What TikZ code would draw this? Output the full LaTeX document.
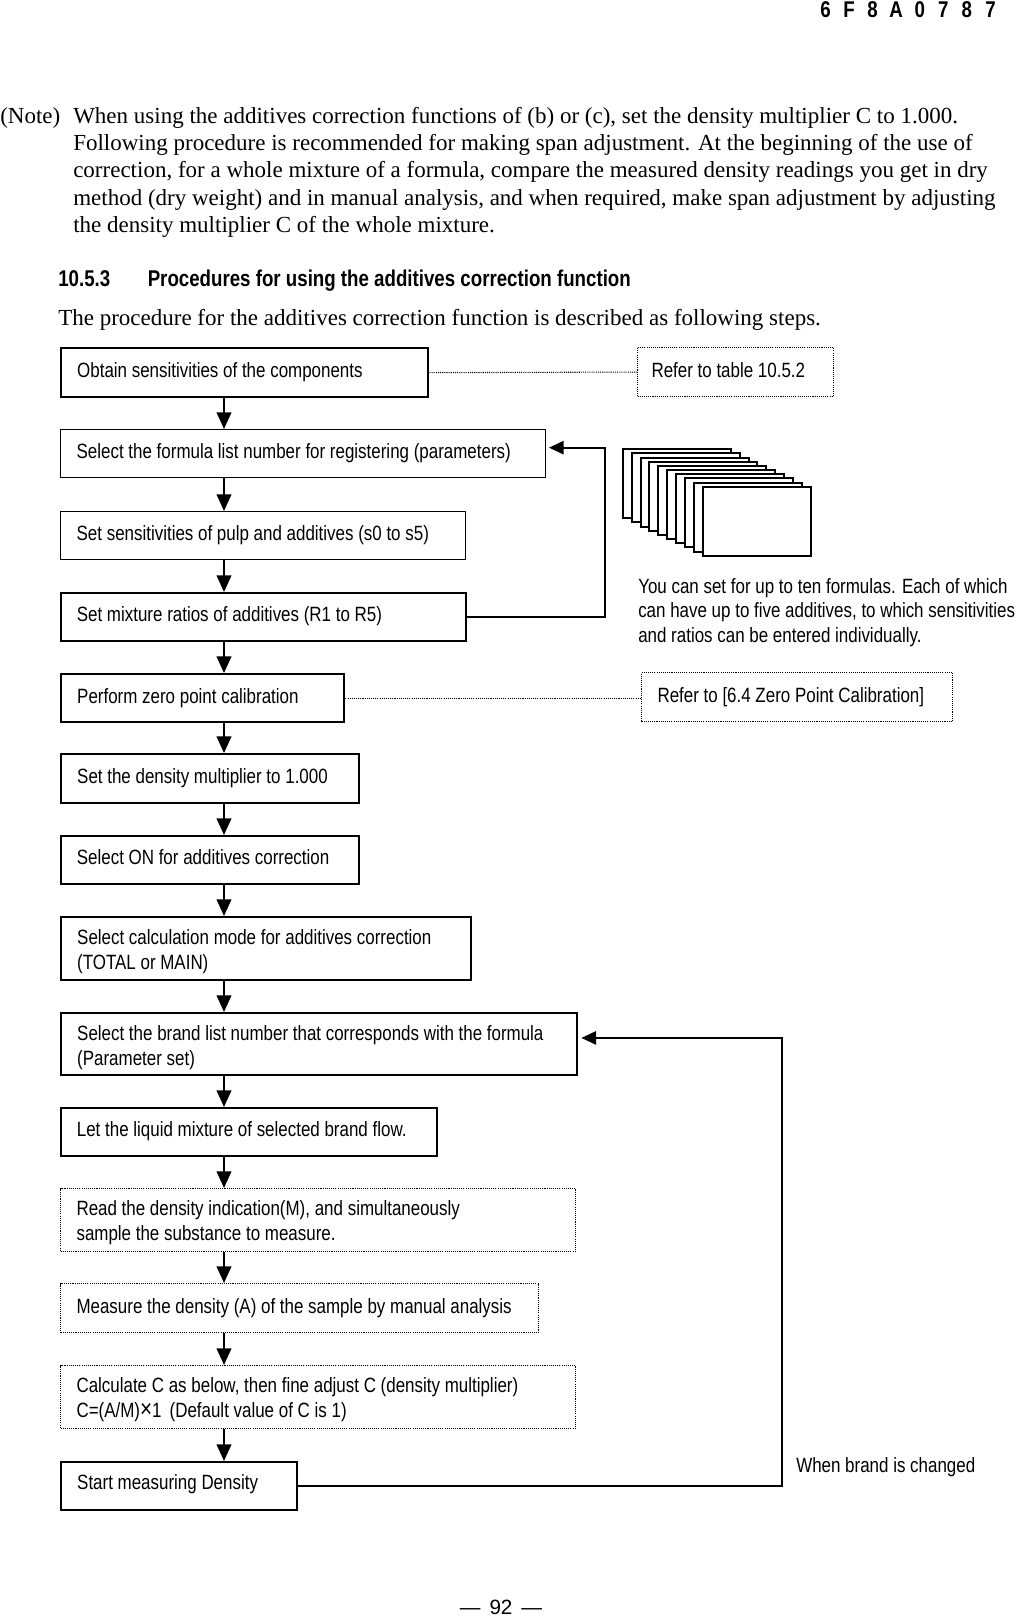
\documentclass[tikz,border=0pt]{standalone}
\usepackage{fontspec}
\setmainfont{Liberation Serif}
\setsansfont{Liberation Sans}
\newfontfamily\nfont[FakeStretch=0.82]{Liberation Sans}
\usetikzlibrary{arrows.meta}
\newcommand{\boxfont}{\nfont\fontsize{15.5pt}{18.75pt}\selectfont}
\newcommand{\serfont}{\rmfamily\fontsize{17.25pt}{20pt}\selectfont}
\newcommand{\headfont}{\nfont\bfseries\fontsize{17.1pt}{20pt}\selectfont}
\newcommand{\bt}[2]{\makebox[#1][l]{\begin{tabular}{@{}l@{}}#2\end{tabular}}}
\newcommand{\btt}[2]{\raisebox{-2.5pt}[\height][\depth]{\makebox[#1][l]{\begin{tabular}{@{}l@{}}#2\end{tabular}}}}
\begin{document}
\begin{tikzpicture}[x=0.75pt,y=-0.75pt,
  box/.style={draw=black, anchor=north west, inner xsep=12pt, inner ysep=0pt, font=\boxfont, fill=white},
  thickb/.style={box, line width=1.8pt},
  medb/.style={box, line width=1.3pt},
  thinb/.style={box, line width=1pt},
  dotb/.style={box, line width=0.8pt, dash pattern=on 0.8pt off 0.8pt},
  sz/.style 2 args={minimum width=#1, minimum height=#2},
  arr/.style={line width=1.5pt, -{Triangle[width=11pt,length=12.5pt]}},
  fb/.style={line width=1.3pt, -{Triangle[width=10pt,length=11pt]}},
  dotline/.style={line width=0.8pt, dash pattern=on 0.8pt off 0.8pt},
  card/.style={draw=black, fill=white, line width=1.5pt},
  txt/.style={inner sep=0pt, anchor=base west}
]
\useasboundingbox (0,0) rectangle (1016,1616);

% header
\foreach \c [count=\i from 0] in {6,F,8,A,0,7,8,7}
  \node[inner sep=0pt, anchor=base, font=\headfont] (h\i) at (825.5+23.57*\i,18) {\c};

% note paragraph
\node[txt, font=\serfont] (note) at (0,124) {(Note)};
\node[txt, font=\serfont] (n1) at (73,124) {When using the additives correction functions of (b) or (c), set the density multiplier C to 1.000.};
\node[txt, font=\serfont] (n2) at (73,151) {Following procedure is recommended for making span adjustment. At the beginning of the use of};
\node[txt, font=\serfont] (n3) at (73,178) {correction, for a whole mixture of a formula, compare the measured density readings you get in dry};
\node[txt, font=\serfont] (n4) at (73,205) {method (dry weight) and in manual analysis, and when required, make span adjustment by adjusting};
\node[txt, font=\serfont] (n5) at (73,232) {the density multiplier C of the whole mixture.};

\node[txt, font=\headfont] (secnum) at (58,286) {10.5.3};
\node[txt, font=\headfont] (sectitle) at (147.5,286) {Procedures for using the additives correction function};
\node[txt, font=\serfont] (intro) at (58,325) {The procedure for the additives correction function is described as following steps.};

% main flow boxes
\node[thickb, sz={275.25pt}{36.75pt}] (obtain) at (60,347) {\bt{251.25pt}{Obtain sensitivities of the components}};
\node[thinb, sz={363.75pt}{36pt}] (formula) at (60,429) {\bt{339.75pt}{Select the formula list number for registering (parameters)}};
\node[thinb, sz={303.75pt}{36pt}] (sens) at (60,511) {\bt{279.75pt}{Set sensitivities of pulp and additives (s0 to s5)}};
\node[medb, sz={303.75pt}{36pt}] (mix) at (60,592) {\bt{279.75pt}{Set mixture ratios of additives (R1 to R5)}};
\node[thickb, sz={212.25pt}{36pt}] (zero) at (60,673) {\bt{188.25pt}{Perform zero point calibration}};
\node[thickb, sz={223.5pt}{36.75pt}] (mult) at (60,753) {\bt{199.5pt}{Set the density multiplier to 1.000}};
\node[medb, sz={223.5pt}{36pt}] (on) at (60,835) {\bt{199.5pt}{Select ON for additives correction}};
\node[thickb, sz={307.5pt}{47.25pt}] (mode) at (60,916) {\btt{283.5pt}{Select calculation mode for additives correction\\(TOTAL or MAIN)}};
\node[thickb, sz={387pt}{46.5pt}] (brand) at (60,1012) {\btt{363pt}{Select the brand list number that corresponds with the formula\\(Parameter set)}};
\node[medb, sz={282pt}{36pt}] (flow) at (60,1107) {\bt{258pt}{Let the liquid mixture of selected brand flow.}};
\node[dotb, sz={386.25pt}{47.25pt}] (read) at (60,1188) {\btt{362.25pt}{Read the density indication(M), and simultaneously\\sample the substance to measure.}};
\node[dotb, sz={358.5pt}{36.75pt}] (meas) at (60,1283) {\bt{334.5pt}{Measure the density (A) of the sample by manual analysis}};
\node[dotb, sz={386.25pt}{47.25pt}] (calc) at (60,1365) {\btt{362.25pt}{Calculate C as below, then fine adjust C (density multiplier)\\C=(A/M){\fontsize{19pt}{18.75pt}\selectfont ×}1\hspace{6pt}(Default value of C is 1)}};
\node[thickb, sz={177pt}{36pt}] (start) at (60,1461) {\raisebox{1.2pt}[\height][\depth]{\bt{153pt}{Start measuring Density}}};

% side reference boxes
\node[dotb, inner xsep=10.5pt, sz={147pt}{36.75pt}] (ref1) at (637,347) {\bt{126pt}{Refer to table 10.5.2}};
\node[dotb, sz={233.25pt}{36.75pt}] (ref2) at (641,672) {\bt{209.25pt}{Refer to [6.4 Zero Point Calibration]}};

\draw[dotline] (obtain.east) -- (ref1.west);
\draw[dotline] (zero.east) -- (zero.east -| ref2.west);

% stacked formula cards
\foreach \i in {0,...,9}
  \draw[card] (622.7+8.9*\i,449.3+4.15*\i) rectangle ++(108,69);

\node[txt, font=\boxfont] (s1) at (638,593) {You can set for up to ten formulas. Each of which};
\node[txt, font=\boxfont] (s2) at (638,617.5) {can have up to five additives, to which sensitivities};
\node[txt, font=\boxfont] (s3) at (638,642) {and ratios can be entered individually.};

% down arrows
\coordinate (ax) at (224,0);
\foreach \a/\b in {obtain/formula,formula/sens,sens/mix,mix/zero,zero/mult,mult/on,on/mode,mode/brand,brand/flow,flow/read,read/meas,meas/calc,calc/start}
  \draw[arr] (\a.south -| ax) -- (\b.north -| ax);

% feedback loops
\coordinate (fbx1) at (605,0);
\coordinate (fbt1) at ([xshift=2pt,yshift=4.5pt]formula.east);
\draw[fb] (mix.east) -| (fbx1 |- fbt1) -- (fbt1);

\coordinate (fbx2) at (782,0);
\coordinate (fbt2) at ([xshift=2.25pt,yshift=4.7pt]brand.east);
\draw[fb] (start.east) -| (fbx2 |- fbt2) -- (fbt2);

\node[txt, font=\boxfont] (when) at (796,1472) {When brand is changed};

% page number
\node[inner sep=0pt, anchor=base, font=\sffamily\fontsize{15.5pt}{18pt}\selectfont] (page) at (501,1614) {—\hspace{6.75pt}92\hspace{6.75pt}—};
\end{tikzpicture}
\end{document}
